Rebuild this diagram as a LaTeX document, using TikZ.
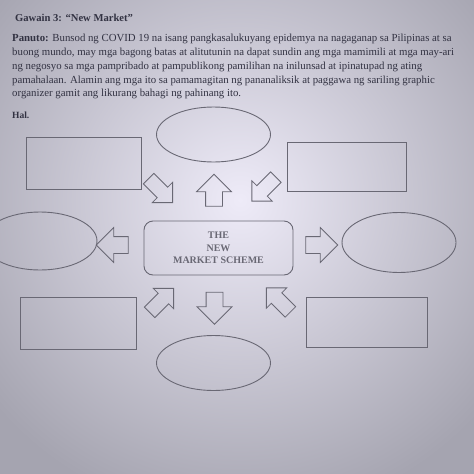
\documentclass[tikz,border=0pt]{standalone}
\usepackage{fontspec}
\setmainfont{Liberation Serif}
\usetikzlibrary{shapes.geometric,shapes.arrows}
\definecolor{bgin}{RGB}{238,235,248}
\definecolor{bgout}{RGB}{165,164,176}
\definecolor{ink}{RGB}{50,50,66}
\definecolor{linec}{RGB}{105,104,116}
\tikzset{
  txt/.style={anchor=base west, inner sep=0pt, text=ink},
  para/.style={txt, font=\fontsize{10.8}{12}\selectfont},
  oval/.style={ellipse, draw=linec, line width=0.9pt, minimum width=114pt, minimum height=55pt, inner sep=0pt},
  box/.style={rectangle, draw=linec, line width=0.9pt, inner sep=0pt},
  barrow/.style={single arrow, draw=linec, line width=0.8pt, inner xsep=0pt, inner ysep=8pt,
     minimum height=32pt, single arrow head extend=9pt, single arrow head indent=0pt},
  darrow/.style={barrow, inner ysep=7pt, single arrow head extend=7pt, minimum height=34pt},
}
\begin{document}
\begin{tikzpicture}[x=1pt,y=-1pt]
\useasboundingbox (0,0) rectangle (474,474);
\shade[inner color=bgin, outer color=bgout] (-80,-120) rectangle (560,520);
% text
\node[txt, font=\fontsize{10.6}{13}\selectfont\bfseries] (title) at (15,21) {Gawain 3: “New Market”};
\node[para] (l1) at (12,41) {\textbf{Panuto:} Bunsod ng COVID 19 na isang pangkasalukuyang epidemya na nagaganap sa Pilipinas at sa};
\node[para] (l2) at (12,55.5) {buong mundo, may mga bagong batas at alitutunin na dapat sundin ang mga mamimili at mga may-ari};
\node[para] (l3) at (12,69.5) {ng negosyo sa mga pampribado at pampublikong pamilihan na inilunsad at ipinatupad ng ating};
\node[para] (l4) at (12,83) {pamahalaan. Alamin ang mga ito sa pamamagitan ng pananaliksik at paggawa ng sariling graphic};
\node[para] (l5) at (12,96.5) {organizer gamit ang likurang bahagi ng pahinang ito.};
\node[txt, font=\fontsize{9.5}{11}\selectfont\bfseries] (hal) at (12,118) {Hal.};
% shapes
\node[oval] (otop) at (213.5,134.5) {};
\node[oval] (obot) at (213.5,363) {};
\node[oval, minimum height=58pt] (oleft) at (40,241) {};
\node[oval, minimum height=60pt] (oright) at (399,242.5) {};
\node[box, minimum width=115pt, minimum height=52pt] (rtl) at (83.5,163) {};
\node[box, minimum width=119pt, minimum height=49pt] (rtr) at (346.5,166.5) {};
\node[box, minimum width=116pt, minimum height=52pt] (rbl) at (78,323) {};
\node[box, minimum width=121pt, minimum height=50pt] (rbr) at (366.5,322) {};
\node[draw=linec, line width=0.9pt, rounded corners=9pt, minimum width=149pt, minimum height=54pt, inner sep=0pt,
      align=center, text=linec, font=\fontsize{10}{12.5}\selectfont\bfseries] (center) at (218.5,248) {THE\\NEW\\MARKET SCHEME};
% arrows
\node[barrow, rotate=90] (aup) at (214,194.5) {};
\node[barrow, rotate=-90] (adown) at (214.5,304) {};
\node[barrow, rotate=180] (aleft) at (116.5,245) {};
\node[barrow, rotate=0] (aright) at (317.5,245) {};
\node[darrow, rotate=-45] (atl) at (158,188) {};
\node[darrow, rotate=-135] (atr) at (266.5,186.5) {};
\node[darrow, rotate=45] (abl) at (159,303) {};
\node[darrow, rotate=135] (abr) at (281,302.5) {};
\end{tikzpicture}
\end{document}
